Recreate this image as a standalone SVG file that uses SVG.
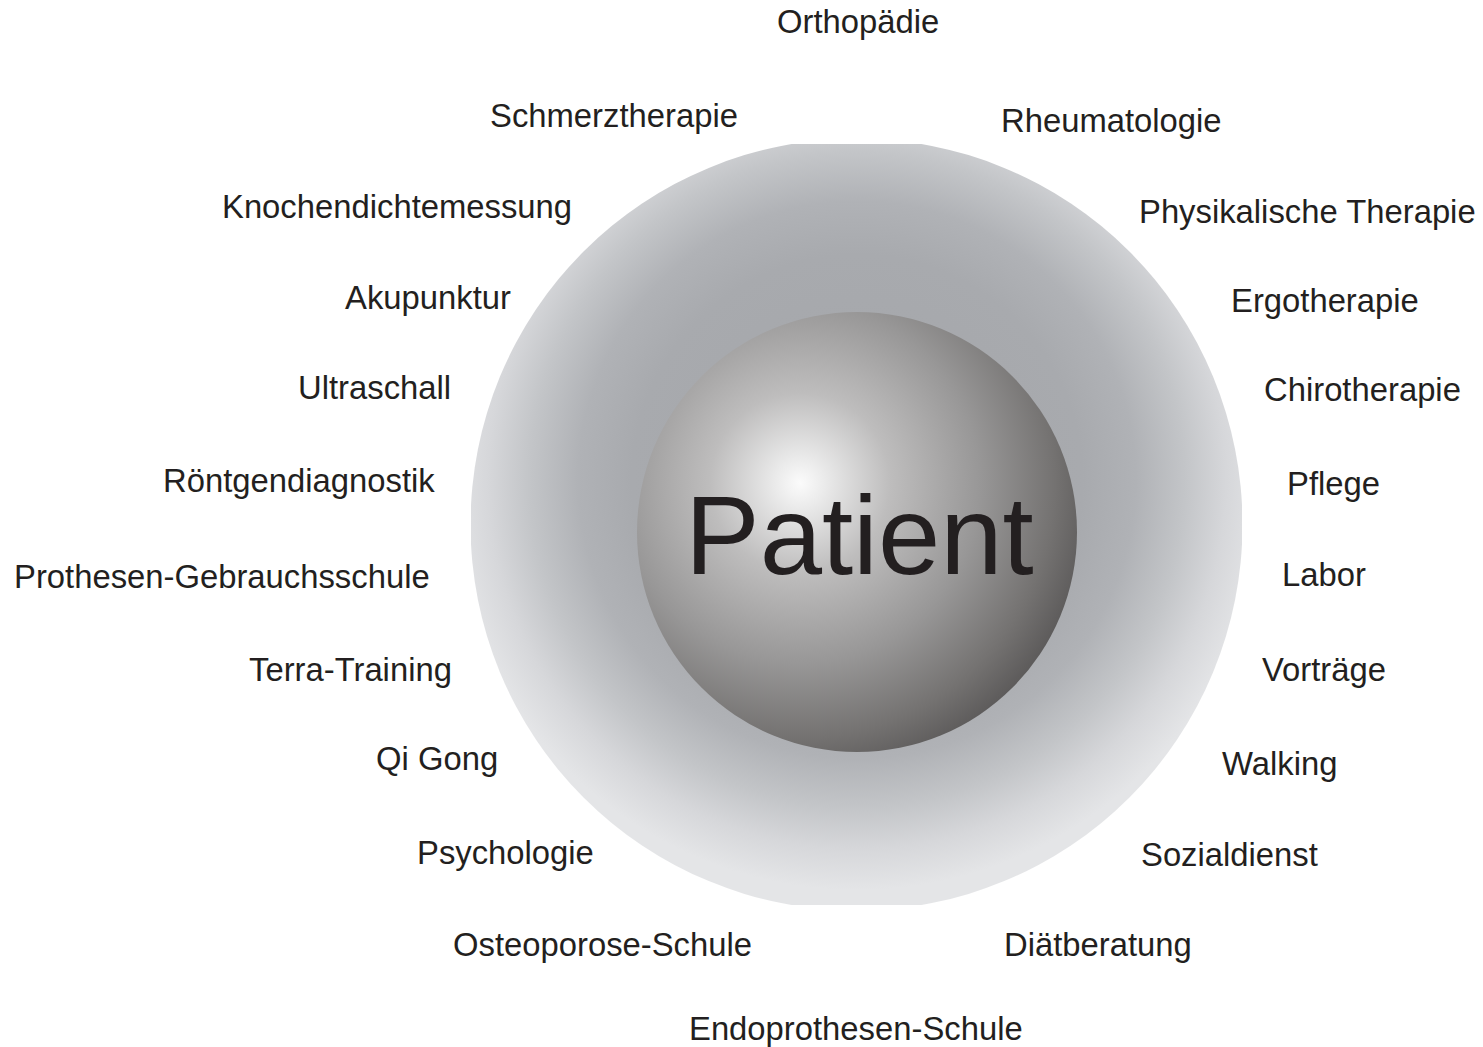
<svg xmlns="http://www.w3.org/2000/svg" width="1483" height="1047" viewBox="0 0 1483 1047">
<style>
.lbl{font-family:"Liberation Sans",Arial,sans-serif;font-size:32.8px;fill:#231f20}
.big{font-family:"Liberation Sans",Arial,sans-serif;font-size:112px;fill:#231f20}
</style>
<defs>
<radialGradient id="outerG" gradientUnits="userSpaceOnUse" cx="857" cy="480" r="410">
<stop offset="0" stop-color="#a3a5a9"/>
<stop offset="0.55" stop-color="#a8aaae"/>
<stop offset="0.68" stop-color="#b0b2b6"/>
<stop offset="0.8" stop-color="#c3c5c8"/>
<stop offset="0.9" stop-color="#d6d7da"/>
<stop offset="1" stop-color="#e4e5e7"/>
</radialGradient>
<radialGradient id="sphereG" gradientUnits="userSpaceOnUse" cx="800" cy="483" r="300">
<stop offset="0" stop-color="#fbfbfb"/>
<stop offset="0.08" stop-color="#ebebeb"/>
<stop offset="0.3" stop-color="#bebdbd"/>
<stop offset="0.6" stop-color="#989797"/>
<stop offset="0.85" stop-color="#747271"/>
<stop offset="1" stop-color="#5a5858"/>
</radialGradient>
<clipPath id="discClip"><rect x="471" y="144" width="771" height="761"/></clipPath>
</defs>
<rect width="1483" height="1047" fill="#ffffff"/>
<g id="outer">
<circle cx="856.5" cy="524.5" r="386" fill="url(#outerG)" clip-path="url(#discClip)"/>
</g>
<g id="patient">
<circle cx="857" cy="532" r="220" fill="url(#sphereG)"/>
<text class="big" x="685" y="574">Patient</text>
</g>
<g id="connectors"></g>
<g id="labels">
<g id="n-orthopaedie"><text class="lbl" x="777" y="33">Orthopädie</text></g>
<g id="n-schmerztherapie"><text class="lbl" x="490" y="127">Schmerztherapie</text></g>
<g id="n-rheumatologie"><text class="lbl" x="1001" y="132">Rheumatologie</text></g>
<g id="n-knochendichtemessung"><text class="lbl" x="222" y="218">Knochendichtemessung</text></g>
<g id="n-physikalische"><text class="lbl" x="1139" y="223">Physikalische Therapie</text></g>
<g id="n-akupunktur"><text class="lbl" x="345" y="309">Akupunktur</text></g>
<g id="n-ergotherapie"><text class="lbl" x="1231" y="312">Ergotherapie</text></g>
<g id="n-ultraschall"><text class="lbl" x="298" y="399">Ultraschall</text></g>
<g id="n-chirotherapie"><text class="lbl" x="1264" y="401">Chirotherapie</text></g>
<g id="n-roentgen"><text class="lbl" x="163" y="492">Röntgendiagnostik</text></g>
<g id="n-pflege"><text class="lbl" x="1287" y="495">Pflege</text></g>
<g id="n-prothesen"><text class="lbl" x="14" y="588">Prothesen-Gebrauchsschule</text></g>
<g id="n-labor"><text class="lbl" x="1282" y="586">Labor</text></g>
<g id="n-terra"><text class="lbl" x="249" y="681">Terra-Training</text></g>
<g id="n-vortraege"><text class="lbl" x="1262" y="681">Vorträge</text></g>
<g id="n-qigong"><text class="lbl" x="376" y="770">Qi Gong</text></g>
<g id="n-walking"><text class="lbl" x="1222" y="775">Walking</text></g>
<g id="n-psychologie"><text class="lbl" x="417" y="864">Psychologie</text></g>
<g id="n-sozialdienst"><text class="lbl" x="1141" y="866">Sozialdienst</text></g>
<g id="n-osteoporose"><text class="lbl" x="453" y="956">Osteoporose-Schule</text></g>
<g id="n-diaet"><text class="lbl" x="1004" y="956">Diätberatung</text></g>
<g id="n-endoprothesen"><text class="lbl" x="689" y="1040">Endoprothesen-Schule</text></g>
</g>
</svg>
